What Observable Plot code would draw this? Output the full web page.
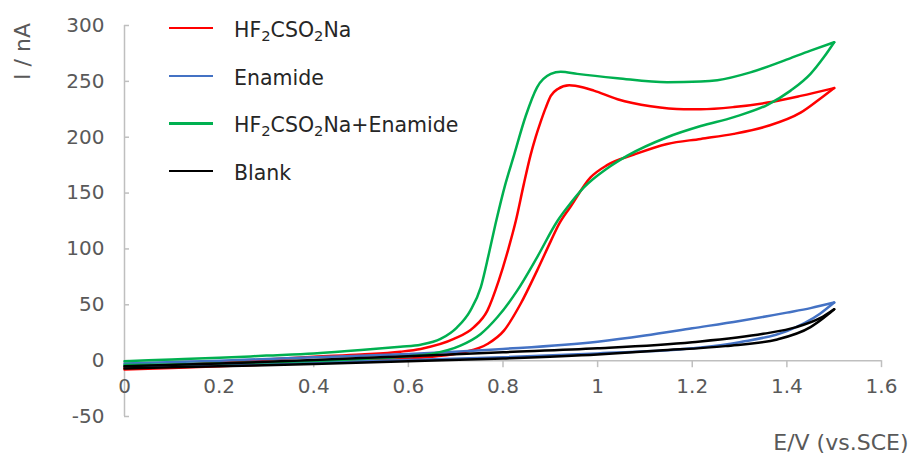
<!DOCTYPE html>
<html>
<head>
<meta charset="utf-8">
<script src="https://cdn.jsdelivr.net/npm/d3@7"></script>
<script src="https://cdn.jsdelivr.net/npm/@observablehq/plot@0.6"></script>
<style>
  body { margin: 0; background: #fff; font-family: "DejaVu Sans", sans-serif; }
  #wrap { position: relative; width: 912px; height: 455px; }
  #legend { position: absolute; left: 169px; top: 0; }
  .item { position: absolute; left: 0; display: flex; align-items: center; white-space: nowrap; height: 30px; }
  .sw { width: 44px; height: 2.5px; margin-right: 21px; }
  .lab { font-size: 20.5px; color: #262626; line-height: 1; position: relative; top: 2px; }
  .lab sub { font-size: 0.72em; line-height: 0; vertical-align: -0.3em; }
</style>
</head>
<body>
<div id="wrap"><div id="legend"></div></div>
<script>
// ---- data ----
const seriesNames = ["HF<sub>2</sub>CSO<sub>2</sub>Na", "Enamide", "HF<sub>2</sub>CSO<sub>2</sub>Na+Enamide", "Blank"];
const seriesColors = ["#FF0000", "#4472C4", "#00B050", "#000000"];

const xTicks = [0, 0.2, 0.4, 0.6, 0.8, 1, 1.2, 1.4, 1.6];
const yTicks = [-50, 0, 50, 100, 150, 200, 250, 300];

// HF2CSO2Na (loop: forward scan then reverse scan)
const redE = [0, 0.1, 0.2, 0.3, 0.4, 0.5, 0.583, 0.626, 0.696, 0.738, 0.767, 0.791, 0.812, 0.827, 0.844, 0.858, 0.869, 0.879, 0.89, 0.901, 0.915, 0.94, 0.97, 0.992, 1.042, 1.112, 1.182, 1.218, 1.288, 1.359, 1.429, 1.5,
  1.478, 1.429, 1.359, 1.288, 1.218, 1.147, 1.077, 1.02, 0.985, 0.943, 0.918, 0.901, 0.872, 0.837, 0.802, 0.767, 0.717, 0.65, 0.55, 0.4, 0.2, 0];
const redI = [-6, -4, -1.5, 1, 3.5, 5.5, 8, 10.5, 19.4, 29.8, 44.8, 71.6, 101, 125, 158, 183.5, 200, 213, 226, 237, 243, 246.5, 244.5, 241.7, 234, 227.7, 225, 225, 227, 231, 237, 244,
  237, 222, 210, 203, 198.5, 194, 184.5, 175, 164, 138, 122, 107, 80.6, 50.7, 26.9, 14.9, 7.5, 3.5, 1, -2, -5, -8];

// Enamide
const blueE = [0, 0.2, 0.4, 0.6, 0.8, 1.0, 1.1, 1.2, 1.3, 1.4, 1.45, 1.5, 1.47, 1.4, 1.3, 1.2, 1.0, 0.8, 0.6, 0.4, 0.2, 0];
const blueI = [-2.5, 0, 3, 6, 10.5, 17, 22.5, 29, 35.5, 43, 47, 52, 42, 26.5, 16.5, 11, 6.5, 3, 0.5, -1.5, -3.5, -5];

// HF2CSO2Na+Enamide
const greenE = [0, 0.1, 0.2, 0.3, 0.4, 0.5, 0.583, 0.626, 0.668, 0.703, 0.731, 0.753, 0.77, 0.784, 0.805, 0.823, 0.848, 0.872, 0.901, 0.922, 0.957, 1.042, 1.147, 1.218, 1.253, 1.323, 1.394, 1.45, 1.5,
  1.478, 1.45, 1.408, 1.359, 1.288, 1.218, 1.147, 1.063, 1.02, 0.971, 0.943, 0.915, 0.872, 0.83, 0.788, 0.753, 0.71, 0.647, 0.6, 0.5, 0.3, 0.1, 0];
const greenI = [-0.5, 1, 2.5, 4.5, 6.5, 9.5, 12.5, 14.3, 19.4, 29.8, 44.8, 65.6, 95.5, 122, 158, 183.5, 219, 244.7, 256.7, 258.7, 256.7, 252.8, 249.2, 249.8, 251, 258, 268.6, 277.5, 285,
  271.5, 256.7, 241.7, 229, 218, 210, 200, 183.5, 172, 155, 141, 125, 92.5, 62.7, 38.8, 23.9, 13.4, 6, 4, 1.5, -1.5, -3.5, -4];

// Blank
const blackE = [0, 0.2, 0.4, 0.6, 0.8, 1.0, 1.2, 1.35, 1.42, 1.47, 1.5, 1.486, 1.45, 1.38, 1.27, 1.13, 1.0, 0.8, 0.6, 0.4, 0.2, 0];
const blackI = [-5, -2.5, 0.5, 4, 7.5, 11, 16.5, 24, 30, 38, 46, 41, 30, 19, 13, 9, 5.5, 2, -0.5, -3, -5, -7];

// ---- build ----
const seriesE = [redE, blueE, greenE, blackE];
const seriesI = [redI, blueI, greenI, blackI];
const axisGrey = "#BFBFBF";
const textGrey = "#595959";

// split each loop at its turning point into two x-monotone branches
const lineMarks = [];
seriesE.forEach((E, k) => {
  const I = seriesI[k];
  const iMax = E.indexOf(Math.max(...E));
  const pts = E.map((e, i) => ({E: e, I: I[i]}));
  const fwd = pts.slice(0, iMax + 1);
  const rev = pts.slice(iMax).reverse();
  [fwd, rev].forEach(branch => {
    lineMarks.push(Plot.line(branch, {
      x: "E", y: "I", stroke: seriesColors[k], strokeWidth: 2.5, curve: "monotone-x"
    }));
  });
});

const chart = Plot.plot({
  width: 912,
  height: 455,
  marginLeft: 124,
  marginRight: 31,
  marginTop: 25,
  marginBottom: 39,
  x: {domain: [0, 1.6], axis: null},
  y: {domain: [-50, 300], axis: null},
  style: {fontFamily: "DejaVu Sans", background: "white"},
  marks: [
    Plot.ruleX([0], {y1: -50, y2: 300, stroke: axisGrey, strokeWidth: 1.5}),
    Plot.ruleY([0], {x1: 0, x2: 1.6, stroke: axisGrey, strokeWidth: 1.5}),
    Plot.ruleY(yTicks, {y: d => d, x1: 0, x2: 0, insetRight: -5, stroke: axisGrey, strokeWidth: 1.5}),
    Plot.ruleX(xTicks, {x: d => d, y1: 0, y2: 0, insetBottom: -7, stroke: axisGrey, strokeWidth: 1.5}),
    Plot.text(yTicks, {x: 0, y: d => d, text: d => String(d), dx: -20, textAnchor: "end", fill: textGrey, fontSize: 20}),
    Plot.text(xTicks, {x: d => d, y: 0, text: d => String(d), dy: 26, fill: textGrey, fontSize: 20}),
    Plot.text(["I / nA"], {frameAnchor: "top-left", dx: -102, dy: 26, rotate: -90, textAnchor: "middle", lineAnchor: "middle", fill: textGrey, fontSize: 22}),
    Plot.text(["E/V (vs.SCE)"], {frameAnchor: "bottom-right", dx: 27, dy: 26, textAnchor: "end", lineAnchor: "middle", fill: textGrey, fontSize: 22}),
    ...lineMarks
  ]
});
document.getElementById("wrap").prepend(chart);
chart.style.position = "absolute";
chart.style.left = "0";
chart.style.top = "0";

// legend
const legendY = [28, 76, 123.5, 171];
const legend = document.getElementById("legend");
seriesNames.forEach((name, k) => {
  const item = document.createElement("div");
  item.className = "item";
  item.style.top = (legendY[k] - 15) + "px";
  const sw = document.createElement("div");
  sw.className = "sw";
  sw.style.background = seriesColors[k];
  const lab = document.createElement("span");
  lab.className = "lab";
  lab.innerHTML = name;
  item.append(sw, lab);
  legend.append(item);
});
</script>
</body>
</html>
